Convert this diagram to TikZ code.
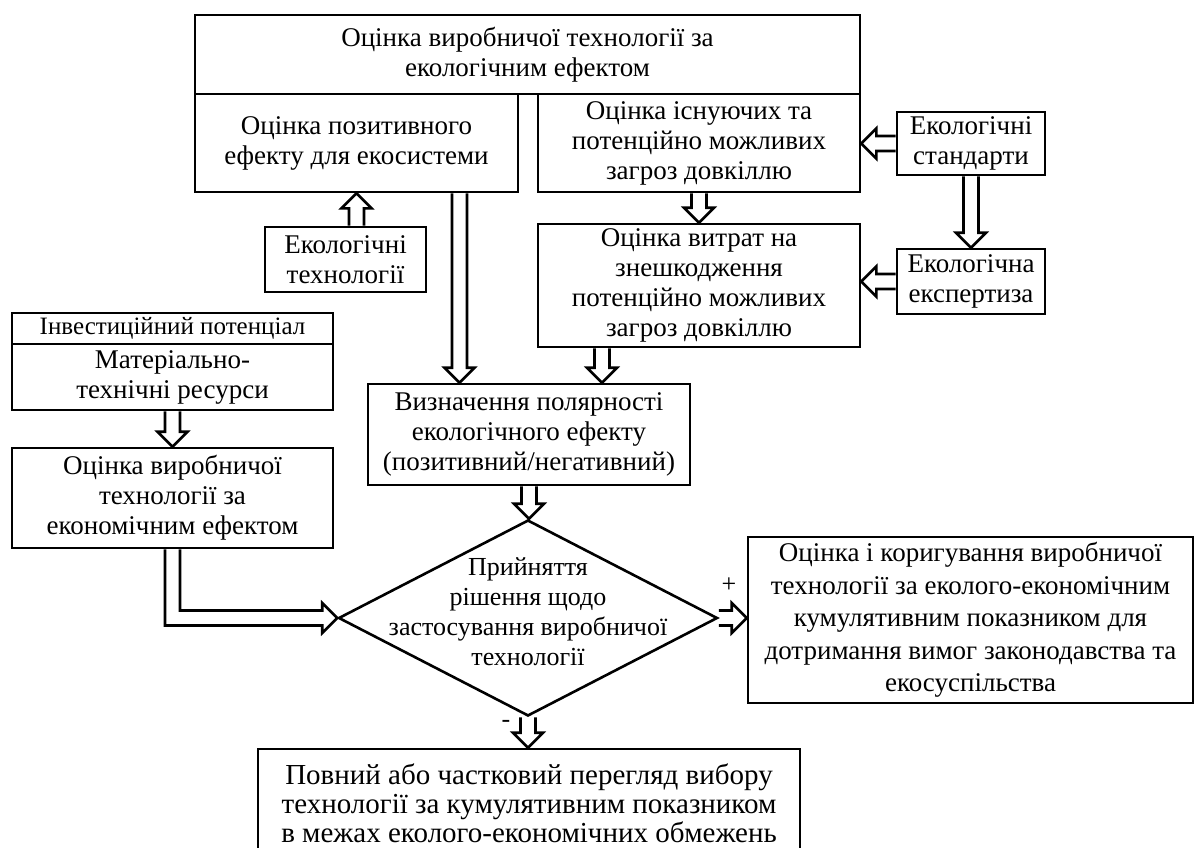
\documentclass[tikz,border=0pt]{standalone}
\usepackage{fontspec}
\setmainfont{Liberation Serif}
\usetikzlibrary{shapes.geometric,calc}
\tikzset{
  bx/.style={draw, line width=2.6pt, inner sep=0pt, align=center,
    font=\fontsize{27}{30}\selectfont},
  harr/.style={draw, line width=2.6pt, line join=miter, miter limit=10},
  lbl/.style={font=\fontsize{26}{29}\selectfont, inner sep=0pt}
}
\newcommand\mybox[7][]{\node[bx, minimum width={(#5-#3)*1pt}, minimum height={(#6-#4)*1pt}, #1] (#2) at ({(#3+#5)/2},{(#4+#6)/2}) {#7};}
% vertical hollow arrow: #3 = 15pt (down) or -15pt (up)
\newcommand\varr[3]{\path[harr] let \p1=(#1), \p2=(#2) in
  (\x1-7.5pt,\y1) -- (\x1-7.5pt,{\y2+(#3)}) -- (\x1-15pt,{\y2+(#3)}) -- (\x1,\y2)
  -- (\x1+15pt,{\y2+(#3)}) -- (\x1+7.5pt,{\y2+(#3)}) -- (\x1+7.5pt,\y1);}
% horizontal hollow arrow: #3 = 15pt (left) or -15pt (right)
\newcommand\harr[3]{\path[harr] let \p1=(#1), \p2=(#2) in
  (\x1,\y1-7.5pt) -- ({\x2+(#3)},\y1-7.5pt) -- ({\x2+(#3)},\y1-15pt) -- (\x2,\y1)
  -- ({\x2+(#3)},\y1+15pt) -- ({\x2+(#3)},\y1+7.5pt) -- (\x1,\y1+7.5pt);}
\begin{document}
\begin{tikzpicture}[x=1pt,y=-1pt]
\useasboundingbox (0,0) rectangle (1197,847);
\fill[white] (0,0) rectangle (1197,847);

\mybox{top}{195}{15}{860}{94}{Оцінка виробничої технології за\\ екологічним ефектом}
\mybox{pos}{195}{94}{518}{192}{Оцінка позитивного\\ ефекту для екосистеми}
\mybox{thr}{538}{94}{860}{192}{Оцінка існуючих та\\ потенційно можливих\\ загроз довкіллю}
\mybox{std}{897}{112}{1045}{175}{Екологічні\\ стандарти}
\mybox{exp}{897}{249}{1045}{314}{Екологічна\\ експертиза}
\mybox{cost}{538}{224}{860}{347}{Оцінка витрат на\\ знешкодження\\ потенційно можливих\\ загроз довкіллю}
\mybox{tech}{265}{227}{426}{292}{Екологічні\\ технології}
\mybox[font=\fontsize{25}{28}\selectfont]{inv}{12}{313}{333}{344}{Інвестиційний потенціал}
\mybox{mat}{12}{344}{333}{410}{Матеріально-\\ технічні ресурси}
\mybox{econ}{12}{448}{333}{548}{Оцінка виробничої\\ технології за\\ економічним ефектом}
\mybox{viz}{368}{384}{690}{485}{Визначення полярності\\ екологічного ефекту\\ (позитивний/негативний)}
\mybox[font=\fontsize{27}{32.5}\selectfont]{res}{748}{537}{1193}{703}{Оцінка і коригування виробничої\\ технології за еколого-економічним\\ кумулятивним показником для\\ дотримання вимог законодавства та\\ екосуспільства}
\mybox[font=\fontsize{29}{29}\selectfont]{rev}{258}{749}{800}{858}{Повний або частковий перегляд вибору\\ технології за кумулятивним показником\\ в межах еколого-економічних обмежень}

\node[diamond, draw, line width=2.6pt, minimum width=379pt, minimum height=196pt, inner sep=0pt] (dec) at (528,618) {};
\node[align=center, font=\fontsize{26}{30}\selectfont, inner sep=0pt] (dectext) at ([yshift=6pt]dec.center) {Прийняття\\ рішення щодо\\ застосування виробничої\\ технології};

% arrows
\varr{[xshift=11pt]tech.north}{[xshift=11pt]tech.north |- pos.south}{-15pt}
\varr{[xshift=103pt]pos.south}{[xshift=103pt]pos.south |- viz.north}{15pt}
\varr{[xshift=-97pt]cost.south}{[xshift=-97pt]cost.south |- viz.north}{15pt}
\varr{thr.south}{thr.south |- cost.north}{15pt}
\varr{std.south}{std.south |- exp.north}{15pt}
\harr{std.west}{std.west -| thr.east}{15pt}
\harr{exp.west}{exp.west -| cost.east}{15pt}
\varr{mat.south}{mat.south |- econ.north}{15pt}
\varr{viz.south}{viz.south |- dec.north}{15pt}
\harr{dec.east}{dec.east -| res.west}{-15pt}
\varr{dec.south}{dec.south |- rev.north}{15pt}
% elbow arrow
\path[harr] let \p1=(econ.south), \p2=(dec.west) in
  (\x1-7.5pt,\y1) -- (\x1-7.5pt,\y2-7.5pt) -- (\x2-15pt,\y2-7.5pt) -- (\x2-15pt,\y2-15pt)
  -- (\x2,\y2) -- (\x2-15pt,\y2+15pt) -- (\x2-15pt,\y2+7.5pt) -- (\x1+7.5pt,\y2+7.5pt)
  -- (\x1+7.5pt,\y1);

\node[lbl] (plus) at (729,585) {+};
\node[lbl] (minus) at (506,724) {-};
\end{tikzpicture}
\end{document}
